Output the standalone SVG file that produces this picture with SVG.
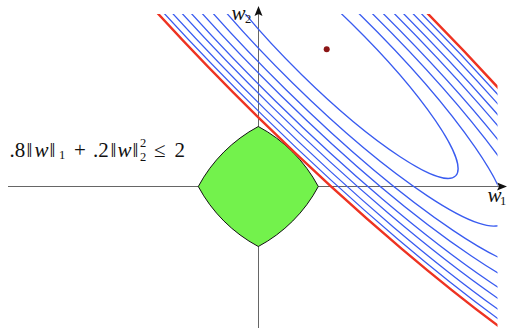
<svg xmlns="http://www.w3.org/2000/svg" width="509" height="328" viewBox="0 0 509 328">
<style>
.ax{stroke:#666;stroke-width:1;fill:none}
.blue{fill:none;stroke:#3a5cf0;stroke-width:1.3}
.red{fill:none;stroke:#ee3322;stroke-width:2.4}
.t{font-family:"Liberation Serif","DejaVu Serif",serif;font-size:21px;fill:#111}
.i{font-style:italic}
.s{font-size:12.5px}
</style>
<defs>
<clipPath id="clip"><rect x="140" y="14" width="357.5" height="314"/></clipPath>
</defs>
<g id="axes">
<line class="ax" x1="8" y1="186.5" x2="500" y2="186.5"/>
<path d="M507,186.5 L497,182.5 L499,186.5 L497,190.5 Z" fill="#111"/>
<line class="ax" x1="258.5" y1="328" x2="258.5" y2="13"/>
<path d="M258.5,6 L254.5,16 L258.5,14 L262.5,16 Z" fill="#111"/>
</g>
<g id="ball">
<path d="M258.3,126.5 C283.8,140.1 304.7,161 318.3,186.5 C304.7,212 283.8,232.9 258.3,246.5 C232.8,232.9 211.9,212 198.3,186.5 C211.9,161 232.8,140.1 258.3,126.5 Z" fill="#73f24c" stroke="#111" stroke-width="1"/>
</g>
<g id="connectors" clip-path="url(#clip)">
<g transform="rotate(44.5 326.5 49)">
<ellipse class="blue" cx="326.5" cy="49" rx="181" ry="35.7"/>
<ellipse class="blue" cx="326.5" cy="49" rx="248" ry="48"/>
<ellipse class="blue" cx="326.5" cy="49" rx="308" ry="57.4"/>
<ellipse class="blue" cx="326.5" cy="49" rx="352" ry="65.1"/>
<ellipse class="blue" cx="326.5" cy="49" rx="396" ry="72.9"/>
<ellipse class="blue" cx="326.5" cy="49" rx="432.7" ry="79.4"/>
<ellipse class="blue" cx="326.5" cy="49" rx="469.2" ry="86.1"/>
<ellipse class="blue" cx="326.5" cy="49" rx="501.7" ry="92.05"/>
<ellipse class="red" cx="326.5" cy="49" rx="526.5" ry="96.6"/>
</g>
</g>
<g id="optimum">
<circle cx="326.7" cy="49.3" r="3" fill="#8b1515"/>
</g>
<g id="labels">
<text class="t"><tspan x="9.5" y="157">.8</tspan><tspan x="26.5" y="157">‖</tspan><tspan class="i" x="34.5" y="157">w</tspan><tspan x="49.5" y="157">‖</tspan><tspan class="s" x="59" y="159">1</tspan><tspan x="74" y="157">+</tspan><tspan x="93" y="157">.2</tspan><tspan x="110.5" y="157">‖</tspan><tspan class="i" x="117.5" y="157">w</tspan><tspan x="132.5" y="157">‖</tspan><tspan class="s" x="140" y="146.5">2</tspan><tspan class="s" x="140" y="160.5">2</tspan><tspan x="154" y="157">≤</tspan><tspan x="174.5" y="157">2</tspan></text>
<text class="t"><tspan class="i" x="231.5" y="20">w</tspan><tspan class="s" x="245" y="23">2</tspan></text>
<text class="t"><tspan class="i" x="487.5" y="202">w</tspan><tspan class="s" x="500" y="205">1</tspan></text>
</g>
</svg>
